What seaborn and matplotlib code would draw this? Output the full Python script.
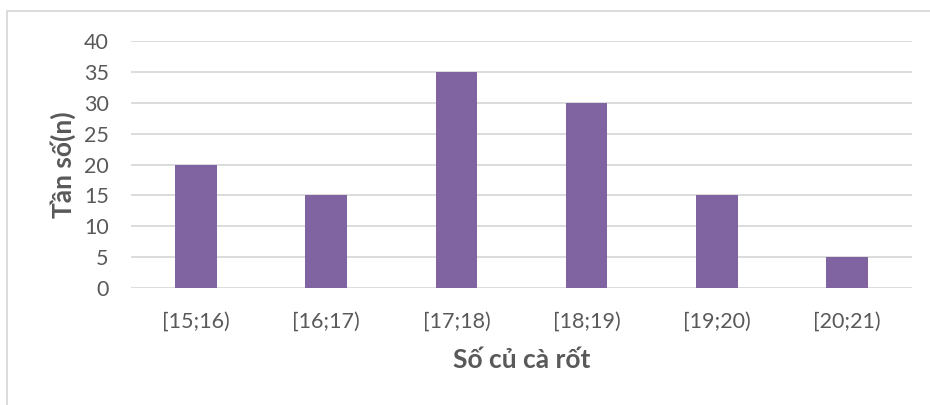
import matplotlib.pyplot as plt
import pandas as pd
import seaborn as sns
from matplotlib.patches import Rectangle

# data
categories = ["[15;16)", "[16;17)", "[17;18)", "[18;19)", "[19;20)", "[20;21)"]
frequencies = [20, 15, 35, 30, 15, 5]
y_ticks = [0, 5, 10, 15, 20, 25, 30, 35, 40]

BAR_COLOR = "#8064A2"
TEXT_COLOR = "#595959"
GRID_COLOR = "#D9D9D9"

sns.set_theme(style="white")
plt.rcParams["font.family"] = ["Lato", "DejaVu Sans"]

df = pd.DataFrame({"category": categories, "freq": frequencies})

fig = plt.figure(figsize=(9.3, 4.05), dpi=100)
ax = fig.add_axes([131 / 930, 1 - 288 / 405, 781 / 930, 247 / 405])

sns.barplot(data=df, x="category", y="freq", color=BAR_COLOR,
            saturation=1, width=0.32, linewidth=0, ax=ax, zorder=3)

ax.set_ylim(0, 40)
ax.set_xlim(-0.5, len(categories) - 0.5)
ax.set_yticks(y_ticks)
ax.yaxis.grid(True, color=GRID_COLOR, linewidth=1.3, zorder=0)
ax.set_axisbelow(True)
for s in ax.spines.values():
    s.set_visible(False)
ax.tick_params(axis="both", length=0, labelsize=15.5, colors=TEXT_COLOR)
ax.tick_params(axis="x", pad=17)
ax.tick_params(axis="y", pad=16)

ax.set_xlabel("Số củ cà rốt", fontsize=19, fontweight="bold",
              color=TEXT_COLOR, labelpad=12)
ax.set_ylabel("Tần số(n)", fontsize=19, fontweight="bold",
              color=TEXT_COLOR)
# place the rotated label just left of the tick numbers
ax.yaxis.set_label_coords((76 - 131) / 781, 0.5)

# chart area border
fig.patches.append(Rectangle((7 / 930, -0.1), 1.0, 1 - 11 / 405 + 0.1,
                             transform=fig.transFigure, fill=False,
                             edgecolor=GRID_COLOR, linewidth=1.3))

fig.savefig("out.png", dpi=100)
